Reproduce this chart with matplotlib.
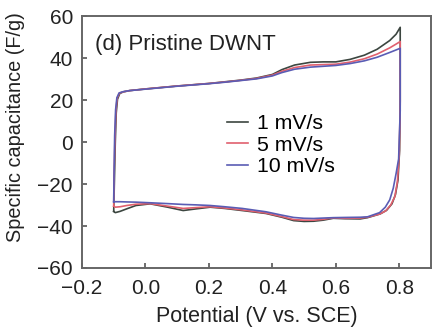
import matplotlib
matplotlib.use("Agg")
import matplotlib.pyplot as plt

plt.rcParams['font.family'] = ['Liberation Sans', 'DejaVu Sans']

# cyclic voltammograms of pristine DWNT at three scan rates
# anodic (upper) branch: -0.1 V -> 0.8 V
up_x_1 = [-0.100, -0.098, -0.095, -0.092, -0.088, -0.081, -0.070, -0.050, 0.000, 0.050, 0.100,
          0.150, 0.200, 0.250, 0.300, 0.350, 0.400, 0.430, 0.470, 0.520, 0.560, 0.600, 0.645,
          0.690, 0.730, 0.770, 0.790, 0.803]
up_y_1 = [-33.0, -20.0, 0.0, 14.0, 20.5, 23.2, 24.0, 24.6, 25.4, 26.1, 26.8,
          27.4, 28.0, 28.8, 29.6, 30.6, 32.3, 34.6, 36.8, 38.1, 38.3, 38.3, 39.5,
          41.5, 44.3, 48.5, 51.5, 54.8]
# cathodic (lower) branch: 0.8 V -> -0.1 V
dn_x_1 = [0.803, 0.803, 0.801, 0.796, 0.788, 0.777, 0.760, 0.740, 0.700, 0.677, 0.630,
          0.592, 0.560, 0.530, 0.500, 0.467, 0.430, 0.380, 0.305, 0.250, 0.204, 0.160,
          0.119, 0.070, 0.015, -0.030, -0.059, -0.080, -0.095, -0.100]
dn_y_1 = [54.8, 20.0, -4.0, -18.0, -25.0, -29.4, -32.5, -34.2, -36.0, -36.6, -36.5,
          -36.3, -37.2, -37.7, -37.8, -37.4, -35.8, -34.0, -32.6, -31.6, -31.0, -31.8,
          -32.6, -31.0, -29.4, -30.2, -31.8, -33.0, -33.6, -33.0]

up_x_5 = [-0.100, -0.099, -0.096, -0.093, -0.089, -0.082, -0.070, -0.050, 0.000, 0.050, 0.100,
          0.150, 0.200, 0.250, 0.300, 0.350, 0.400, 0.430, 0.470, 0.520, 0.560, 0.600, 0.645,
          0.690, 0.730, 0.770, 0.790, 0.803]
up_y_5 = [-30.5, -18.0, 2.0, 15.0, 21.0, 23.4, 24.0, 24.6, 25.4, 26.1, 26.8,
          27.4, 28.0, 28.7, 29.5, 30.4, 32.0, 33.8, 35.6, 36.8, 37.0, 37.2, 38.2,
          39.8, 42.0, 45.0, 46.8, 48.0]
dn_x_5 = [0.803, 0.803, 0.800, 0.794, 0.786, 0.773, 0.757, 0.738, 0.700, 0.677, 0.630,
          0.592, 0.560, 0.530, 0.500, 0.467, 0.430, 0.380, 0.305, 0.250, 0.204, 0.160,
          0.119, 0.070, 0.015, -0.030, -0.059, -0.080, -0.095, -0.100]
dn_y_5 = [48.0, 18.0, -6.0, -19.0, -26.0, -30.0, -32.8, -34.3, -35.8, -36.2, -36.3,
          -36.1, -36.8, -37.2, -37.2, -36.9, -35.5, -33.8, -32.3, -31.4, -30.8, -31.2,
          -31.6, -30.5, -29.3, -29.6, -30.2, -30.8, -31.0, -30.5]

up_x_10 = [-0.100, -0.099, -0.097, -0.094, -0.090, -0.083, -0.070, -0.050, 0.000, 0.050, 0.100,
           0.150, 0.200, 0.250, 0.300, 0.350, 0.400, 0.430, 0.470, 0.520, 0.560, 0.600, 0.645,
           0.690, 0.730, 0.770, 0.790, 0.803]
up_y_10 = [-28.5, -16.0, 3.0, 15.5, 21.2, 23.5, 24.1, 24.6, 25.3, 26.0, 26.7,
           27.3, 27.9, 28.6, 29.4, 30.2, 31.6, 33.2, 34.8, 35.8, 36.2, 36.6, 37.5,
           38.8, 40.5, 42.8, 44.0, 44.8]
dn_x_10 = [0.803, 0.803, 0.798, 0.790, 0.781, 0.770, 0.756, 0.738, 0.700, 0.677, 0.630,
           0.592, 0.560, 0.530, 0.500, 0.467, 0.430, 0.380, 0.305, 0.250, 0.204, 0.160,
           0.119, 0.070, 0.015, -0.030, -0.059, -0.080, -0.095, -0.100]
dn_y_10 = [44.8, 15.0, -8.0, -15.0, -22.0, -27.5, -31.0, -33.6, -35.6, -35.8, -35.9,
           -36.0, -36.2, -36.4, -36.3, -35.9, -34.8, -33.2, -31.6, -30.8, -30.2, -29.9,
           -29.7, -29.3, -28.9, -28.6, -28.5, -28.4, -28.4, -28.5]

labels = ['1 mV/s', '5 mV/s', '10 mV/s']
colors = ['#3c4640', '#e0606e', '#5a5cb4']

xticks = [-0.2, 0.0, 0.2, 0.4, 0.6, 0.8]
yticks = [-60, -40, -20, 0, 20, 40, 60]

fig = plt.figure(figsize=(4.36, 3.28), dpi=100)
ax = fig.add_axes([0.188, 0.183, 0.8005, 0.767])

loops = [(up_x_1 + dn_x_1, up_y_1 + dn_y_1),
         (up_x_5 + dn_x_5, up_y_5 + dn_y_5),
         (up_x_10 + dn_x_10, up_y_10 + dn_y_10)]
for (xs, ys), lab, c in zip(loops, labels, colors):
    ax.plot(xs, ys, color=c, lw=1.2, label=lab)

ax.set_xlim(-0.2, 0.9)
ax.set_ylim(-60, 60)
ax.set_xticks(xticks)
ax.set_yticks(yticks)
ax.set_xticklabels(['%.1f' % v if v >= 0 else '\u2212%.1f' % -v for v in xticks])

ax.tick_params(direction='in', length=3.6, width=1.2, colors='#555555',
               labelcolor='#222222', labelsize=15, pad=6.5)
ax.tick_params(axis='x', pad=8)
for s in ax.spines.values():
    s.set_color('#666666')
    s.set_linewidth(1.4)

ax.set_xlabel('Potential (V vs. SCE)', fontsize=15.5, color='#222222', labelpad=5.5)
ax.set_ylabel('Specific capacitance (F/g)', fontsize=14.3, color='#222222')
ax.yaxis.set_label_coords(-0.163, 0.56)

ax.text(0.037, 0.866, '(d) Pristine DWNT', transform=ax.transAxes, fontsize=16,
        color='#222222', va='baseline', ha='left')

ax.legend(loc='upper left', bbox_to_anchor=(0.415, 0.612), frameon=False, fontsize=15.3,
          handlelength=1.0, handletextpad=0.42, labelspacing=0.12, borderaxespad=0,
          borderpad=0)

fig.savefig('out.png', dpi=100)
